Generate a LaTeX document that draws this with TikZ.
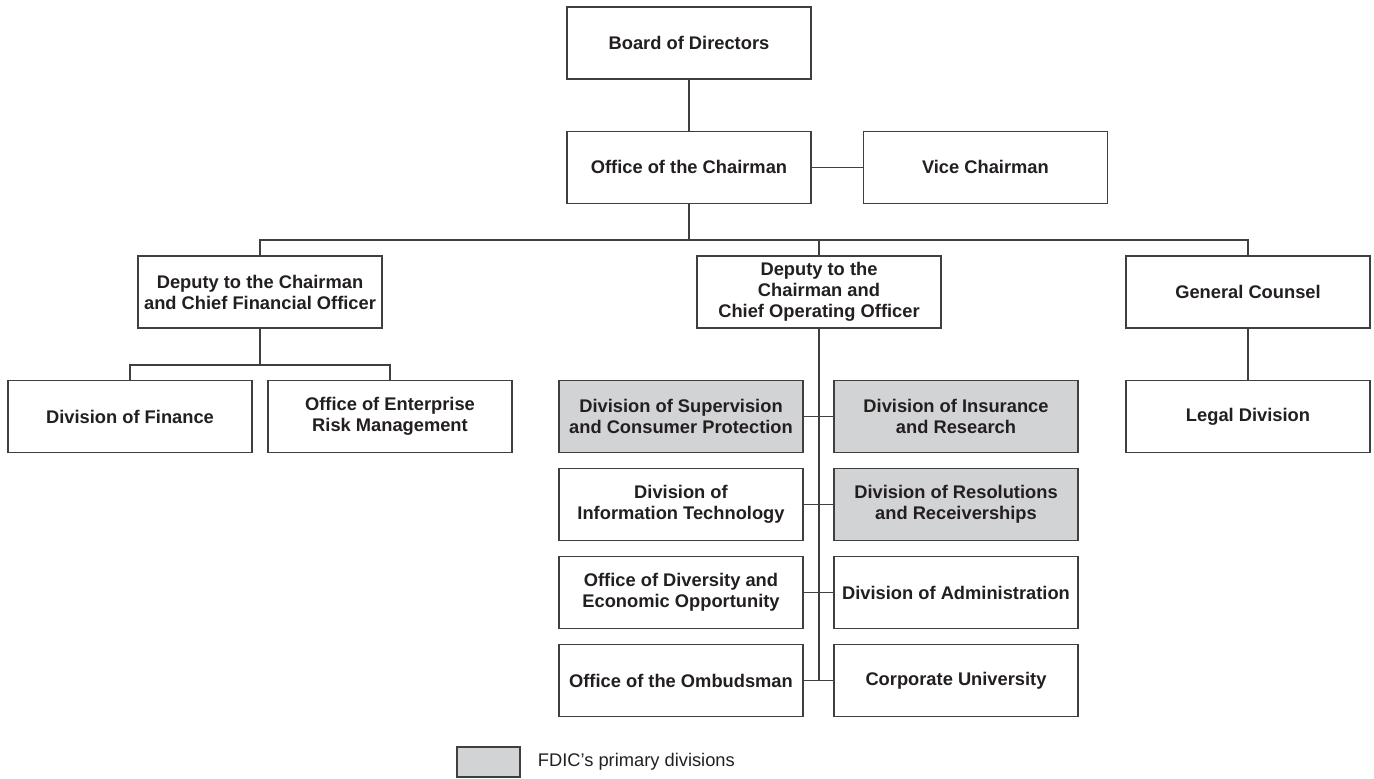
\documentclass[tikz,border=0pt]{standalone}
\usepackage{fontspec}
\setmainfont{Liberation Sans}
\usetikzlibrary{positioning}
\definecolor{linegray}{HTML}{3F3F3F}
\definecolor{divgray}{HTML}{D1D3D4}
\definecolor{textblack}{HTML}{231F20}
\tikzset{
  every picture/.style={font={\bfseries\fontsize{18.3}{21}\selectfont}}}

\begin{document}
\begin{tikzpicture}[x=1pt, y=-1pt, node distance=51pt and 51pt,
    unit/.style={draw=linegray, line width=1.4pt, fill=white, text=textblack,
      minimum width=244pt, minimum height=72pt, inner sep=0pt, align=center},
    primary/.style={unit, fill=divgray},
    link/.style={draw=linegray, line width=1.3pt}]

    \useasboundingbox (0,0) rectangle (1374,779);

    % top of the chart
    \node[unit] (BD) at (689,43) {Board of Directors};
    \node[unit] (OC) [below=of BD] {Office of the Chairman};
    \node[unit] (VC) [right=of OC] {Vice Chairman};

    % deputies and counsel
    \node[unit] (DF) at (260,292) {Deputy to the Chairman\\and Chief Financial Officer};
    \node[unit] (DO) at (819,292) {Deputy to the\\Chairman and\\Chief Operating Officer};
    \node[unit] (GC) at (1248,292) {General Counsel};

    \node[unit] (FI) at (130,416.5) {Division of Finance};
    \node[unit] (ER) [right=14.6pt of FI] {Office of Enterprise\\Risk Management};
    \node[unit] (LD) [below=of GC] {Legal Division};

    % divisions under the operating officer
    \node[primary] (SC) at (681,416.5) {Division of Supervision\\and Consumer Protection};
    \node[primary] (IR) [right=29.6pt of SC] {Division of Insurance\\and Research};
    \node[unit] (IT) [below=14.6pt of SC] {Division of\\Information Technology};
    \node[primary] (RR) [right=29.6pt of IT] {Division of Resolutions\\and Receiverships};
    \node[unit] (DE) [below=14.6pt of IT] {Office of Diversity and\\Economic Opportunity};
    \node[unit] (DA) [right=29.6pt of DE] {Division of Administration};
    \node[unit] (OM) [below=14.6pt of DE] {Office of the Ombudsman};
    \node[unit] (CU) [right=29.6pt of OM] {Corporate University};

    % legend
    \node[primary, minimum width=63pt, minimum height=30pt] (KEY) at (488.5,762) {};
    \node[text=textblack, font={\fontsize{18.3}{21}\selectfont}, inner sep=0pt]
      (KEYTXT) [right=17pt of KEY] {FDIC's primary divisions};

    % connectors
    \coordinate (TOP) at (689,240);
    \coordinate (FB) at (260,365);

    \path[link] (BD) edge (OC);
    \path[link] (OC) edge (VC);
    \draw[link] (OC) -- (TOP);
    \draw[link] (DF.north) |- (TOP) -| (GC.north);
    \draw[link] (DO.north) -- (DO.north |- TOP);

    \draw[link] (DF) -- (FB);
    \draw[link] (FI.north) |- (FB) -| (ER.north);
    \draw[link] (GC) -- (LD);

    \draw[link] (DO) -- (DO.south |- OM.east);
    \foreach \l/\r in {SC/IR, IT/RR, DE/DA, OM/CU}
      \draw[link] (\l) -- (\r);
  \end{tikzpicture}
\end{document}
